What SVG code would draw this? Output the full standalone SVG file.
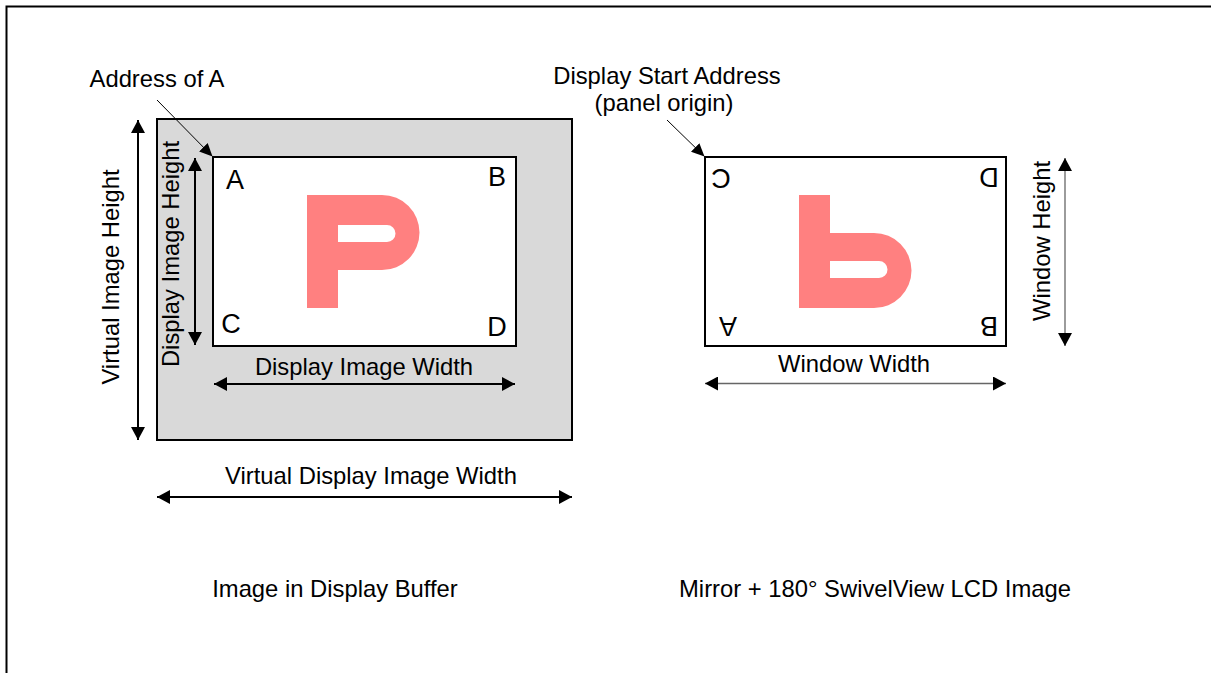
<svg xmlns="http://www.w3.org/2000/svg" width="1211" height="673" viewBox="0 0 1211 673">
<style>
text{font-family:"Liberation Sans",Arial,sans-serif;fill:#000}
.lbl{font-size:23.8px}
.let{font-size:27px}
.box{stroke:#000;stroke-width:2}
.arr{stroke:#000;stroke-width:2;fill:none}
.garr{stroke:#666;stroke-width:1.3;fill:none}
.lead{stroke:#000;stroke-width:1;fill:none}
.glyph{fill:#ff8080;fill-rule:evenodd}
</style>
<defs>
<marker id="ah" markerUnits="userSpaceOnUse" markerWidth="14" markerHeight="14" refX="13" refY="7" orient="auto-start-reverse" viewBox="0 0 14 14">
<path d="M0,0 L13,7 L0,14 Z" fill="#000"/>
</marker>
<marker id="ahs" markerUnits="userSpaceOnUse" markerWidth="14" markerHeight="12" refX="13" refY="6" orient="auto" viewBox="0 0 14 12">
<path d="M0,0 L13,6 L0,12 Z" fill="#000"/>
</marker>
<path id="pglyph" d="M307,195 H382 A37.5,37.5 0 0 1 382,270 H338 V308 H307 Z M338,225 H387 A8.5,8.5 0 0 1 387,242 H338 Z"/>
</defs>
<rect width="1211" height="673" fill="#fff"/>
<path d="M6.5,673 V6.5 H1211" fill="none" stroke="#000" stroke-width="2"/>

<g id="buffer">
<rect x="157" y="119" width="415" height="321" fill="#d9d9d9" class="box"/>
<g id="display-image">
<rect x="213" y="157" width="303" height="189" fill="#fff" class="box"/>
<use href="#pglyph" class="glyph"/>
<text class="let" x="235" y="189" text-anchor="middle">A</text>
<text class="let" x="497" y="186" text-anchor="middle">B</text>
<text class="let" x="231" y="333" text-anchor="middle">C</text>
<text class="let" x="497" y="336" text-anchor="middle">D</text>
</g>
</g>

<g id="lcd">
<rect x="705" y="157" width="301" height="189" fill="#fff" class="box"/>
<use href="#pglyph" class="glyph" transform="translate(492,503) scale(1,-1)"/>
<text class="let" transform="translate(721,179) rotate(180)" y="9.6" text-anchor="middle">C</text>
<text class="let" transform="translate(989,178) rotate(180)" y="9.6" text-anchor="middle">D</text>
<text class="let" transform="translate(728,327) rotate(180)" y="9.6" text-anchor="middle">A</text>
<text class="let" transform="translate(989,327) rotate(180)" y="9.6" text-anchor="middle">B</text>
</g>

<g id="connectors">
<line class="arr" x1="138" y1="120" x2="138" y2="440" marker-start="url(#ah)" marker-end="url(#ah)"/>
<line class="arr" x1="195" y1="158" x2="195" y2="345" marker-start="url(#ah)" marker-end="url(#ah)"/>
<line class="arr" x1="214" y1="384" x2="515" y2="384" marker-start="url(#ah)" marker-end="url(#ah)"/>
<line class="arr" x1="157" y1="497" x2="572" y2="497" marker-start="url(#ah)" marker-end="url(#ah)"/>
<line class="garr" x1="705" y1="383.5" x2="1006" y2="383.5" marker-start="url(#ah)" marker-end="url(#ah)"/>
<line class="garr" x1="1065" y1="158" x2="1065" y2="346" marker-start="url(#ah)" marker-end="url(#ah)"/>
<line class="lead" x1="157" y1="100" x2="212.5" y2="156.5" marker-end="url(#ahs)"/>
<line class="lead" x1="667" y1="120" x2="704.5" y2="156.5" marker-end="url(#ahs)"/>
</g>

<g id="labels">
<text class="lbl" x="157" y="87" text-anchor="middle">Address of A</text>
<text class="lbl" x="667" y="84" text-anchor="middle">Display Start Address</text>
<text class="lbl" x="664" y="111" text-anchor="middle">(panel origin)</text>
<text class="lbl" transform="translate(118.5,277) rotate(-90)" text-anchor="middle">Virtual Image Height</text>
<text class="lbl" transform="translate(178.5,254) rotate(-90)" text-anchor="middle">Display Image Height</text>
<text class="lbl" transform="translate(1050,241) rotate(-90)" text-anchor="middle">Window Height</text>
<text class="lbl" x="364" y="375" text-anchor="middle">Display Image Width</text>
<text class="lbl" x="371" y="484" text-anchor="middle">Virtual Display Image Width</text>
<text class="lbl" x="854" y="372" text-anchor="middle">Window Width</text>
<text class="lbl" x="335" y="597" text-anchor="middle">Image in Display Buffer</text>
<text class="lbl" x="875" y="597" text-anchor="middle">Mirror + 180° SwivelView LCD Image</text>
</g>
</svg>
